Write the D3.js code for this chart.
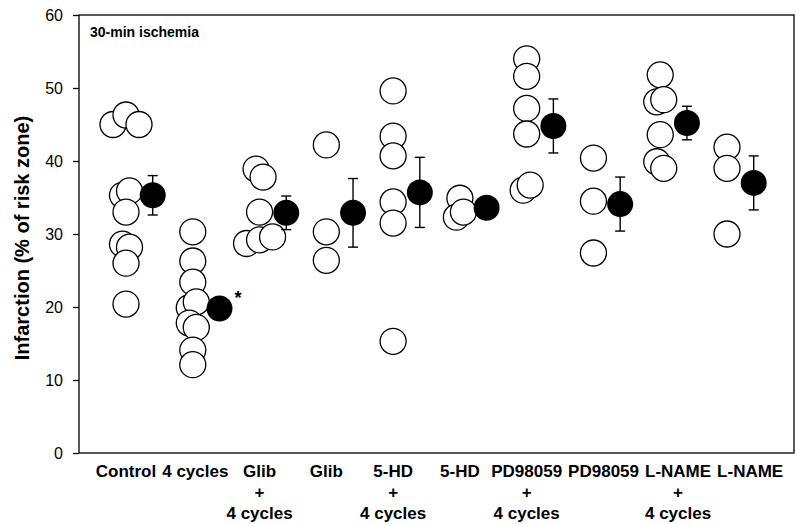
<!DOCTYPE html>
<html>
<head>
<meta charset="utf-8">
<script src="https://cdn.jsdelivr.net/npm/d3@7/dist/d3.min.js"></script>
<style>
  body { margin: 0; background: #fff; }
  svg { font-family: "Liberation Sans", Arial, sans-serif; }
</style>
</head>
<body>
<div class="chart-wrapper"></div>
<script>
// groups along the x axis, label lines stacked under each column
var groups = ["ctrl", "pc", "glibPc", "glib", "hdPc", "hd", "pdPc", "pd", "lnPc", "ln"];
var groupLabels = [
    ["Control"], ["4 cycles"], ["Glib", "+", "4 cycles"], ["Glib"],
    ["5-HD", "+", "4 cycles"], ["5-HD"], ["PD98059", "+", "4 cycles"], ["PD98059"],
    ["L-NAME", "+", "4 cycles"], ["L-NAME"]
];

// individual hearts (% of risk zone), in plotting order
var ctrlVals   = [45.0, 46.3, 45.0, 35.3, 35.9, 33.0, 28.6, 28.2, 26.0, 20.4];
var pcVals     = [30.3, 26.3, 23.4, 19.9, 20.7, 17.8, 17.2, 14.1, 12.1];
var glibPcVals = [38.9, 37.8, 33.0, 28.7, 29.2, 29.6];
var glibVals   = [42.2, 30.3, 26.4];
var hdPcVals   = [49.6, 43.4, 40.7, 34.4, 31.5, 15.3];
var hdVals     = [34.9, 32.3, 33.0];
var pdPcVals   = [54.0, 51.6, 47.2, 43.7, 36.0, 36.7];
var pdVals     = [40.4, 34.5, 27.4];
var lnPcVals   = [51.8, 48.1, 48.4, 43.6, 39.9, 39.0];
var lnVals     = [41.9, 39.0, 30.0];
var pointVals = [ctrlVals, pcVals, glibPcVals, glibVals, hdPcVals, hdVals, pdPcVals, pdVals, lnPcVals, lnVals];

// group mean +/- SEM
var means = [35.3, 19.8, 32.9, 32.9, 35.7, 33.6, 44.8, 34.1, 45.2, 37.0];
var sems  = [2.7, 1.5, 2.3, 4.7, 4.8, 0.8, 3.7, 3.7, 2.3, 3.7];
var significant = [false, true, false, false, false, false, false, false, false, false];

var yTicks = [0, 10, 20, 30, 40, 50, 60];

var width = 796, height = 524;
var plotL = 79, plotT = 15, plotR = 794, plotB = 453;
var r = 13;

var svg = d3.select(".chart-wrapper").append("svg")
    .attr("width", width)
    .attr("height", height);

var y = d3.scaleLinear()
    .domain([0, 60])
    .range([plotB, plotT]);

var x = d3.scalePoint()
    .domain(groups)
    .range([126, 727]);

var meanShift = x.step() * 0.4;

// frame
svg.append("rect")
    .attr("x", plotL)
    .attr("y", plotT)
    .attr("width", plotR - plotL)
    .attr("height", plotB - plotT)
    .attr("fill", "none")
    .attr("stroke", "#000")
    .attr("stroke-width", 1.3);

var yAxis = svg.append("g")
    .attr("transform", "translate(" + plotL + ",0)")
    .call(d3.axisLeft(y).tickValues(yTicks).tickSize(6).tickSizeOuter(0).tickPadding(10));
yAxis.select(".domain").remove();
yAxis.selectAll("line").attr("stroke-width", 1.3);
yAxis.selectAll("text")
    .attr("font-size", 16)
    .attr("font-family", "\"Liberation Sans\", Arial, sans-serif")
    .attr("fill", "#000");

svg.append("text")
    .attr("transform", "translate(29," + ((plotT + plotB) / 2 + 4) + ") rotate(-90)")
    .attr("text-anchor", "middle")
    .attr("font-size", 20)
    .attr("font-weight", "bold")
    .text("Infarction (% of risk zone)");

svg.append("text")
    .attr("x", 90)
    .attr("y", 37)
    .attr("font-size", 14)
    .attr("font-weight", "bold")
    .text("30-min ischemia");

/* spread overlapping circles sideways: near-equal values get a small dodge */
function dodge(vals) {
    var order = vals.map(function(v, i) { return i; })
        .sort(function(a, b) { return vals[b] - vals[a]; });
    var off = vals.map(function() { return 0; });
    var clusters = [], cur = [order[0]];
    for (var k = 1; k < order.length; k++) {
        var gap = y(vals[order[k]]) - y(vals[order[k - 1]]);
        if (gap < 10) cur.push(order[k]);
        else { clusters.push(cur); cur = [order[k]]; }
    }
    clusters.push(cur);
    clusters.forEach(function(c) {
        c.sort(function(a, b) { return a - b; });
        var n = c.length, s = n > 2 ? 13 : 7;
        c.forEach(function(idx, j) { off[idx] = (j - (n - 1) / 2) * s; });
    });
    return off;
}

var points = [];
pointVals.forEach(function(vals, gi) {
    var off = dodge(vals);
    vals.forEach(function(v, i) {
        points.push({ group: groups[gi], value: v, dx: off[i] });
    });
});

svg.append("g").selectAll("circle")
    .data(points)
    .enter().append("circle")
    .attr("cx", function(d) { return x(d.group) + d.dx; })
    .attr("cy", function(d) { return y(d.value); })
    .attr("r", r)
    .attr("fill", "#fff")
    .attr("stroke", "#000")
    .attr("stroke-width", 1.3);

var meanData = groups.map(function(g, i) {
    return { group: g, mean: means[i], sem: sems[i], sig: significant[i] };
});

var mg = svg.append("g").selectAll("g")
    .data(meanData)
    .enter().append("g")
    .attr("transform", function(d) { return "translate(" + (x(d.group) + meanShift) + ",0)"; });

mg.append("line")
    .attr("y1", function(d) { return y(d.mean + d.sem); })
    .attr("y2", function(d) { return y(d.mean - d.sem); })
    .attr("stroke", "#000")
    .attr("stroke-width", 1.4);
mg.selectAll(".cap")
    .data(function(d) { return [d.mean + d.sem, d.mean - d.sem]; })
    .enter().append("line")
    .attr("class", "cap")
    .attr("x1", -5).attr("x2", 5)
    .attr("y1", function(v) { return y(v); })
    .attr("y2", function(v) { return y(v); })
    .attr("stroke", "#000")
    .attr("stroke-width", 1.4);

mg.append("circle")
    .attr("cy", function(d) { return y(d.mean); })
    .attr("r", r)
    .attr("fill", "#000");

mg.filter(function(d) { return d.sig; })
    .append("text")
    .attr("x", 15)
    .attr("y", function(d) { return y(d.mean) - 4; })
    .attr("font-size", 18)
    .attr("font-weight", "bold")
    .text("*");

// category labels under the axis; each block starts centred on its column,
// then is pushed right if its first line would run into the previous one
var lab = svg.append("g").selectAll("text")
    .data(groups)
    .enter().append("text")
    .attr("y", 477)
    .attr("text-anchor", "middle")
    .attr("font-size", 17)
    .attr("font-weight", "bold");
lab.selectAll("tspan")
    .data(function(g, i) { return groupLabels[i]; })
    .enter().append("tspan")
    .attr("dy", function(t, i) { return i === 0 ? 0 : 21; })
    .text(function(t) { return t; });

var prevRight = -Infinity;
lab.each(function(g) {
    var first = d3.select(this).select("tspan").node();
    var w = first.getComputedTextLength();
    var cx = Math.max(x(g), prevRight + 6 + w / 2);
    prevRight = cx + w / 2;
    d3.select(this).selectAll("tspan").attr("x", cx);
});
</script>
</body>
</html>
